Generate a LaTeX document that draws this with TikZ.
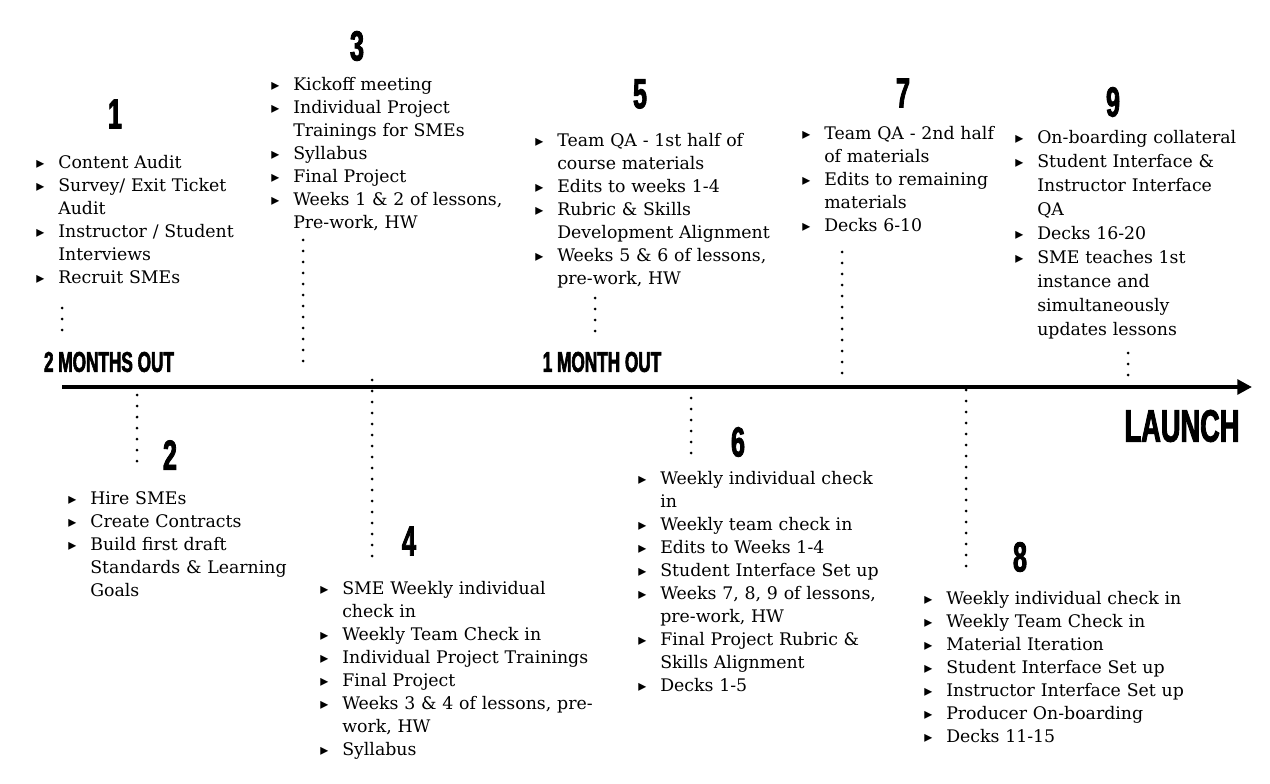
\documentclass[tikz,border=0pt]{standalone}
\usepackage{fontspec}
\setmainfont{DejaVu Serif}
\newfontfamily\headfont[FakeStretch=0.6,FakeBold=2]{Liberation Sans}
\newfontfamily\symfont{DejaVu Sans}
\usetikzlibrary{arrows.meta}

\newcommand{\bl}{\makebox[16.5pt][l]{\symfont\fontsize{12pt}{12pt}\selectfont ▸}}
\newcommand{\ct}{\hspace*{16.5pt}}

\tikzset{
	lst/.style={anchor=base west, inner sep=0pt, align=left, text width=250pt,
		font=\fontsize{13pt}{17.25pt}\selectfont},
	phase/.style={inner sep=0pt, font=\headfont\bfseries\fontsize{31.5pt}{32pt}\selectfont},
	when/.style={inner sep=0pt, font=\headfont\bfseries\fontsize{21.5pt}{22pt}\selectfont},
	leader/.style={line width=2.25pt, line cap=round, dash pattern=on 0pt off 8.25pt},
	axis/.style={line width=3pt, -{Triangle[length=11pt,width=11pt]}}
}

\begin{document}
\begin{tikzpicture}[x=0.75pt, y=-0.75pt]
	\useasboundingbox (0,0) rectangle (1270,784);

	\coordinate (start) at (62,387);
	\coordinate (end) at (1252,387);
	\draw[axis] (start) -- (end);

	\node[when] (two) at (109,362) {2 MONTHS OUT};
	\node[when] (one) at (602,362) {1 MONTH OUT};
	\node[inner sep=0pt, font=\headfont\bfseries\fontsize{34pt}{35pt}\selectfont] (launch) at (1182,426) {LAUNCH};

	\foreach \p/\l/\x/\y in {p1/1/115/114, p2/2/170/455, p3/3/357/46, p4/4/409/541, p5/5/640/94,
		p6/6/738/442, p7/7/903/93, p8/8/1020/557, p9/9/1113/102} {
		\node[phase] (\p) at (\x,\y) {\l};
	}

	\node[lst] (l1) at (36,169) {\bl Content Audit\\ \bl Survey/ Exit Ticket\\ \ct Audit\\
		\bl Instructor / Student\\ \ct Interviews\\ \bl Recruit SMEs};
	\node[lst] (l3) at (271,91) {\bl Kickoff meeting\\ \bl Individual Project\\ \ct Trainings for SMEs\\
		\bl Syllabus\\ \bl Final Project\\ \bl Weeks 1 \& 2 of lessons,\\ \ct Pre-work, HW};
	\node[lst] (l5) at (535,147) {\bl Team QA - 1st half of\\ \ct course materials\\ \bl Edits to weeks 1-4\\
		\bl Rubric \& Skills\\ \ct Development Alignment\\ \bl Weeks 5 \& 6 of lessons,\\ \ct pre-work, HW};
	\node[lst] (l7) at (802,140) {\bl Team QA - 2nd half\\ \ct of materials\\ \bl Edits to remaining\\
		\ct materials\\ \bl Decks 6-10};
	\node[lst, font=\fontsize{13pt}{18pt}\selectfont] (l9) at (1015,144) {\bl On-boarding collateral\\
		\bl Student Interface \&\\ \ct Instructor Interface\\ \ct QA\\ \bl Decks 16-20\\
		\bl SME teaches 1st\\ \ct instance and\\ \ct simultaneously\\ \ct updates lessons};
	\node[lst] (l2) at (68,504) {\bl Hire SMEs\\ \bl Create Contracts\\ \bl Build first draft\\
		\ct Standards \& Learning\\ \ct Goals};
	\node[lst] (l4) at (320,594) {\bl SME Weekly individual\\ \ct check in\\ \bl Weekly Team Check in\\
		\bl Individual Project Trainings\\ \bl Final Project\\ \bl Weeks 3 \& 4 of lessons, pre-\\
		\ct work, HW\\ \bl Syllabus};
	\node[lst] (l6) at (638,484) {\bl Weekly individual check\\ \ct in\\ \bl Weekly team check in\\
		\bl Edits to Weeks 1-4\\ \bl Student Interface Set up\\ \bl Weeks 7, 8, 9 of lessons,\\
		\ct pre-work, HW\\ \bl Final Project Rubric \&\\ \ct Skills Alignment\\ \bl Decks 1-5};
	\node[lst] (l8) at (924,604) {\bl Weekly individual check in\\ \bl Weekly Team Check in\\
		\bl Material Iteration\\ \bl Student Interface Set up\\ \bl Instructor Interface Set up\\
		\bl Producer On-boarding\\ \bl Decks 11-15};

	\foreach \n/\x/\ya/\yb in {1/62/308/330.5, 3/303/240/361.5, 5/595/298/331.5, 7/842/252/373.5,
		9/1128/353/375.5, 2/137/395/461.5, 4/372/380/556.5, 6/691/398/453.5, 8/966/390/566.5} {
		\coordinate (top\n) at (\x,\ya);
		\coordinate (bot\n) at (\x,\yb);
		\draw[leader] (top\n) -- (bot\n);
	}
\end{tikzpicture}
\end{document}
